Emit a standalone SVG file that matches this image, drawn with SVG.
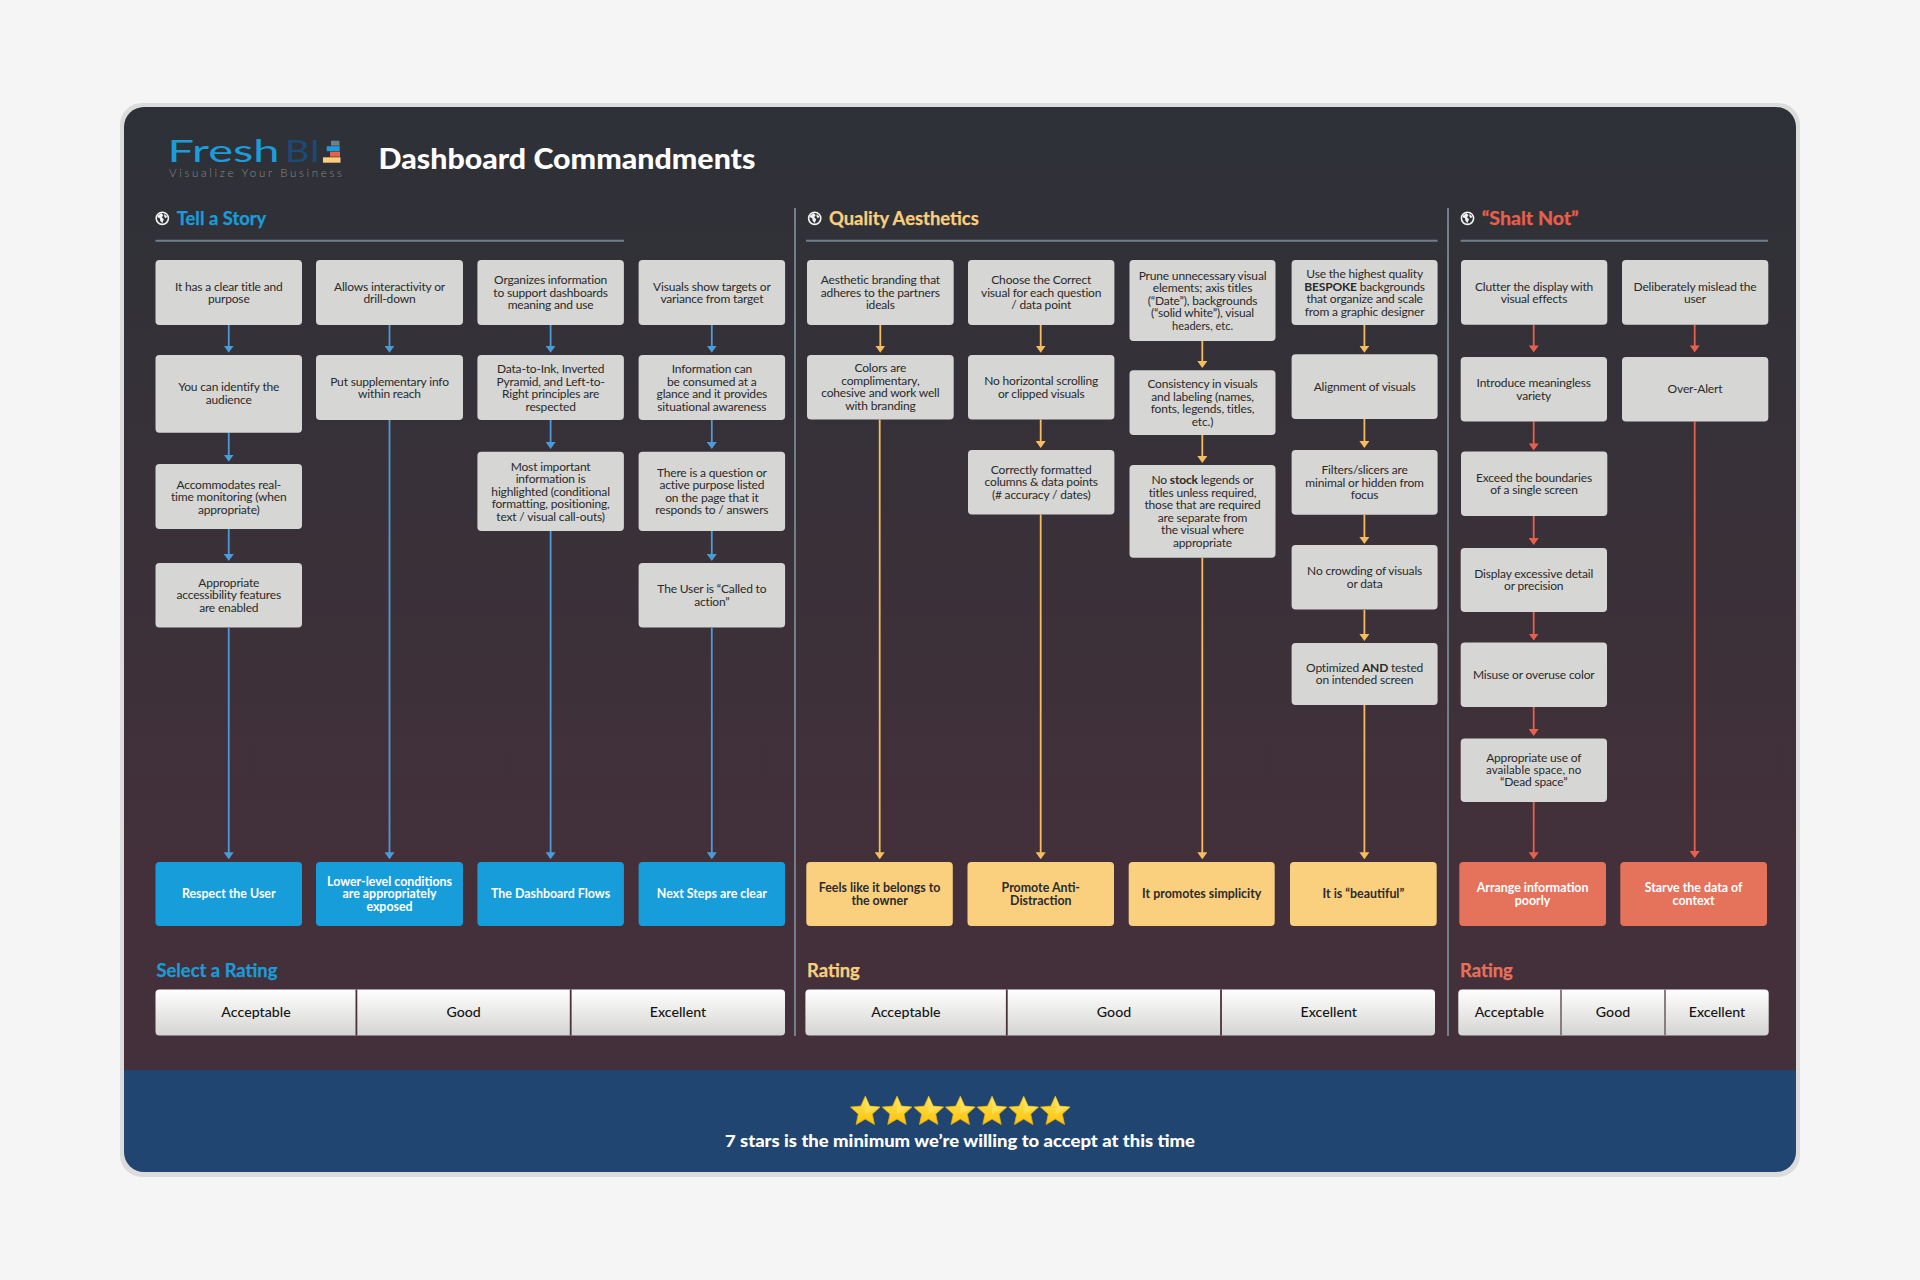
<svg xmlns="http://www.w3.org/2000/svg" xmlns:xlink="http://www.w3.org/1999/xlink" width="1920" height="1280" viewBox="0 0 1920 1280">
<style>
text{font-family:"Lato","Open Sans","Liberation Sans",sans-serif;text-anchor:middle}
.b{fill:#d6d6d4}
.t{font-size:12px;fill:#2a2a2a;letter-spacing:-0.17px}
.bb{fill:#189ddb}
.by{fill:#fad07f}
.br{fill:#e5725b}
.tw{font-size:12.4px;font-weight:700;fill:#fff}
.td{font-size:12.4px;font-weight:700;fill:#2b2b2b}
.h{font-size:18.4px;font-weight:700;text-anchor:start;stroke-width:0.25px}
.r{font-size:14.2px;font-weight:500;fill:#141414}
.cb{stroke:#4a9bd8;stroke-width:1.8;fill:none;marker-end:url(#mb)}
.cy{stroke:#f5bd60;stroke-width:1.8;fill:none;marker-end:url(#my)}
.cr{stroke:#e8604c;stroke-width:1.8;fill:none;marker-end:url(#mr)}
.rule{stroke:#6f7f8b;stroke-width:2}
.sep{stroke:#4a323d;stroke-width:1.8}
</style>
<defs>
<linearGradient id="card" x1="0" y1="107" x2="0" y2="900" gradientUnits="userSpaceOnUse"><stop offset="0" stop-color="#2d3137"/><stop offset="1" stop-color="#44303a"/></linearGradient>
<linearGradient id="bar" x1="0" y1="0" x2="0" y2="1"><stop offset="0" stop-color="#ffffff"/><stop offset="1" stop-color="#d4d4d2"/></linearGradient>
<linearGradient id="star" x1="0" y1="0" x2="0" y2="1"><stop offset="0" stop-color="#ffe455"/><stop offset="1" stop-color="#fcc20c"/></linearGradient>
<marker id="mb" viewBox="0 0 7 10" markerUnits="userSpaceOnUse" markerWidth="7" markerHeight="10" refX="2" refY="5" orient="auto"><path d="M0 0L7 5L0 10z" fill="#4a9bd8"/></marker>
<marker id="my" viewBox="0 0 7 10" markerUnits="userSpaceOnUse" markerWidth="7" markerHeight="10" refX="2" refY="5" orient="auto"><path d="M0 0L7 5L0 10z" fill="#f5bd60"/></marker>
<marker id="mr" viewBox="0 0 7 10" markerUnits="userSpaceOnUse" markerWidth="7" markerHeight="10" refX="2" refY="5" orient="auto"><path d="M0 0L7 5L0 10z" fill="#e8604c"/></marker>
<g id="globe"><circle r="6.1" fill="#2f3238" stroke="#f2f2f2" stroke-width="1.6"/><path d="M-4.8 -2.6L-1 -5.2L1 -3L-0.5 -1L1.5 1L0 4.8L-2 2.6L-2.5 0L-4.8 -1z M2 -4.2L5 -1.5L3 0L1.8 -2z" fill="#f2f2f2"/></g>
<g id="st"><path d="M0 -14.5L4.4 -4.6L14.8 -3.6L7 3.4L9.2 13.8L0 8.4L-9.2 13.8L-7 3.4L-14.8 -3.6L-4.4 -4.6z" fill="url(#star)" stroke="#e9b00c" stroke-width="0.8" stroke-linejoin="round"/><path d="M0 -14.5L4.4 -4.6L14.8 -3.6L0 3z" fill="#ffe86e" opacity="0.55"/></g>
</defs>
<rect width="1920" height="1280" fill="#f5f5f5"/>
<g id="panel">
<rect x="122" y="105" width="1676" height="1070" rx="20" fill="#dcdcdc" stroke="#dcdcdc" stroke-width="4"/>
<path d="M144 107H1776a20 20 0 0 1 20 20V1070H124V127a20 20 0 0 1 20-20z" fill="url(#card)"/>
<path d="M124 1070H1796V1152a20 20 0 0 1-20 20H144a20 20 0 0 1-20-20z" fill="#204570"/>
</g>
<g id="logo">
<text x="167.5" y="161.7" font-size="30" font-weight="400" textLength="112" lengthAdjust="spacingAndGlyphs" style="text-anchor:start" fill="#1b9ddb">Fresh</text>
<text x="285" y="161.7" font-size="30" font-weight="400" textLength="35" lengthAdjust="spacingAndGlyphs" style="text-anchor:start" fill="#1c4a75">BI</text>
<rect x="331" y="140.7" width="8.5" height="5" fill="#6e7e8c"/>
<rect x="326.7" y="146.2" width="13" height="5" fill="#1b9ddb"/>
<rect x="330" y="151.7" width="10" height="5" fill="#e8604c"/>
<rect x="323" y="157.3" width="17.5" height="5.4" fill="#f9cf7e"/>
<text x="169" y="176.5" font-size="11.5" font-weight="300" textLength="173" style="text-anchor:start" fill="#8a8a8a">Visualize Your Business</text>
</g>
<text id="title" x="378.5" y="169" font-size="29" font-weight="900" fill="#fff" textLength="377" lengthAdjust="spacingAndGlyphs" style="text-anchor:start">Dashboard Commandments</text>
<g id="section-heads">
<use href="#globe" x="162.3" y="218.3"/><text class="h" x="176.7" y="224.7" fill="#1a9cd8" stroke="#1a9cd8">Tell a Story</text>
<use href="#globe" x="814.7" y="218.3"/><text class="h" x="829" y="224.7" fill="#f9cf7e" stroke="#f9cf7e">Quality Aesthetics</text>
<use href="#globe" x="1467.5" y="218.3"/><text class="h" x="1481.7" y="224.7" fill="#e8604c" stroke="#e8604c" textLength="97" lengthAdjust="spacingAndGlyphs">“Shalt Not”</text>
<line class="rule" x1="155.5" y1="240.7" x2="624" y2="240.7"/>
<line class="rule" x1="806" y1="240.7" x2="1437.6" y2="240.7"/>
<line class="rule" x1="1460.7" y1="240.7" x2="1768" y2="240.7"/>
<line class="rule" x1="795" y1="208" x2="795" y2="1036"/>
<line class="rule" x1="1448" y1="208" x2="1448" y2="1036"/>
</g>
<g id="connectors">
<path class="cb" d="M228.75 325V347.7"/><path class="cb" d="M228.75 432.7V456.7"/><path class="cb" d="M228.75 529V556"/><path class="cb" d="M228.75 628V854.3"/>
<path class="cb" d="M389.5 325V347.7"/><path class="cb" d="M389.5 420V854.3"/>
<path class="cb" d="M550.6 325V347.7"/><path class="cb" d="M550.6 420V444"/><path class="cb" d="M550.6 531V854.3"/>
<path class="cb" d="M711.8 325V347.7"/><path class="cb" d="M711.8 420V444"/><path class="cb" d="M711.8 531V556"/><path class="cb" d="M711.8 628V854.3"/>
<path class="cy" d="M880.3 325V347.7"/><path class="cy" d="M879.7 419.5V854.3"/>
<path class="cy" d="M1040.7 325V347.7"/><path class="cy" d="M1040.7 419.5V443"/><path class="cy" d="M1040.7 514.5V854.3"/>
<path class="cy" d="M1202.3 341V363"/><path class="cy" d="M1202.3 435V458"/><path class="cy" d="M1202.3 557.7V854.3"/>
<path class="cy" d="M1364.4 325V347.7"/><path class="cy" d="M1364.4 419V443"/><path class="cy" d="M1364.4 514.7V539"/><path class="cy" d="M1364.4 610V636"/><path class="cy" d="M1364.4 705V854.3"/>
<path class="cr" d="M1533.7 325V347.4"/><path class="cr" d="M1533.7 421.4V445.4"/><path class="cr" d="M1533.7 516V540"/><path class="cr" d="M1533.7 612V635.6"/><path class="cr" d="M1533.7 707V731"/><path class="cr" d="M1533.7 802V854.3"/>
<path class="cr" d="M1694.7 325V347.4"/><path class="cr" d="M1694.7 421.4V853"/>
</g>
<g id="n1"><rect class="b" x="155.5" y="260" width="146.5" height="65" rx="4"/><text class="t" x="228.75" y="290.5">It has a clear title and<tspan x="228.75" dy="12.5">purpose</tspan></text></g>
<g id="n2"><rect class="b" x="155.5" y="355" width="146.5" height="77.7" rx="4"/><text class="t" x="228.75" y="391.2">You can identify the<tspan x="228.75" dy="12.5">audience</tspan></text></g>
<g id="n3"><rect class="b" x="155.5" y="464" width="146.5" height="65" rx="4"/><text class="t" x="228.75" y="488.6">Accommodates real-<tspan x="228.75" dy="12.5">time monitoring (when</tspan><tspan x="228.75" dy="12.5">appropriate)</tspan></text></g>
<g id="n4"><rect class="b" x="155.5" y="563" width="146.5" height="64.5" rx="4"/><text class="t" x="228.75" y="586.8">Appropriate<tspan x="228.75" dy="12.5">accessibility features</tspan><tspan x="228.75" dy="12.5">are enabled</tspan></text></g>
<g id="n5"><rect class="bb" x="155.5" y="862" width="146.5" height="64" rx="4"/><text class="tw" x="228.75" y="898">Respect the User</text></g>
<g id="n6"><rect class="b" x="316" y="260" width="147" height="65" rx="4"/><text class="t" x="389.5" y="290.5">Allows interactivity or<tspan x="389.5" dy="12.5">drill-down</tspan></text></g>
<g id="n7"><rect class="b" x="316" y="355" width="147" height="65" rx="4"/><text class="t" x="389.5" y="385.5">Put supplementary info<tspan x="389.5" dy="12.5">within reach</tspan></text></g>
<g id="n8"><rect class="bb" x="316" y="862" width="147" height="64" rx="4"/><text class="tw" x="389.5" y="885.5">Lower-level conditions<tspan x="389.5" dy="12.5">are appropriately</tspan><tspan x="389.5" dy="12.5">exposed</tspan></text></g>
<g id="n9"><rect class="b" x="477.4" y="260" width="146.5" height="65" rx="4"/><text class="t" x="550.6" y="284.2">Organizes information<tspan x="550.6" dy="12.5">to support dashboards</tspan><tspan x="550.6" dy="12.5">meaning and use</tspan></text></g>
<g id="n10"><rect class="b" x="477.4" y="355" width="146.5" height="65" rx="4"/><text class="t" x="550.6" y="373">Data-to-Ink, Inverted<tspan x="550.6" dy="12.5">Pyramid, and Left-to-</tspan><tspan x="550.6" dy="12.5">Right principles are</tspan><tspan x="550.6" dy="12.5">respected</tspan></text></g>
<g id="n11"><rect class="b" x="477.4" y="451.7" width="146.5" height="79.3" rx="4"/><text class="t" x="550.6" y="470.5">Most important<tspan x="550.6" dy="12.5">information is</tspan><tspan x="550.6" dy="12.5">highlighted (conditional</tspan><tspan x="550.6" dy="12.5">formatting, positioning,</tspan><tspan x="550.6" dy="12.5">text / visual call-outs)</tspan></text></g>
<g id="n12"><rect class="bb" x="477.4" y="862" width="146.5" height="64" rx="4"/><text class="tw" x="550.6" y="898">The Dashboard Flows</text></g>
<g id="n13"><rect class="b" x="638.6" y="260" width="146.5" height="65" rx="4"/><text class="t" x="711.85" y="290.5">Visuals show targets or<tspan x="711.85" dy="12.5">variance from target</tspan></text></g>
<g id="n14"><rect class="b" x="638.6" y="355" width="146.5" height="65" rx="4"/><text class="t" x="711.85" y="373">Information can<tspan x="711.85" dy="12.5">be consumed at a</tspan><tspan x="711.85" dy="12.5">glance and it provides</tspan><tspan x="711.85" dy="12.5">situational awareness</tspan></text></g>
<g id="n15"><rect class="b" x="638.6" y="451.7" width="146.5" height="79.3" rx="4"/><text class="t" x="711.85" y="476.8">There is a question or<tspan x="711.85" dy="12.5">active purpose listed</tspan><tspan x="711.85" dy="12.5">on the page that it</tspan><tspan x="711.85" dy="12.5">responds to / answers</tspan></text></g>
<g id="n16"><rect class="b" x="638.6" y="563" width="146.5" height="64.5" rx="4"/><text class="t" x="711.85" y="593">The User is “Called to<tspan x="711.85" dy="12.5">action”</tspan></text></g>
<g id="n17"><rect class="bb" x="638.6" y="862" width="146.5" height="64" rx="4"/><text class="tw" x="711.85" y="898">Next Steps are clear</text></g>
<g id="n18"><rect class="b" x="807" y="260" width="146.7" height="65" rx="4"/><text class="t" x="880.35" y="284.2">Aesthetic branding that<tspan x="880.35" dy="12.5">adheres to the partners</tspan><tspan x="880.35" dy="12.5">ideals</tspan></text></g>
<g id="n19"><rect class="b" x="807" y="355" width="146.7" height="64.5" rx="4"/><text class="t" x="880.35" y="372.4">Colors are<tspan x="880.35" dy="12.5">complimentary,</tspan><tspan x="880.35" dy="12.5">cohesive and work well</tspan><tspan x="880.35" dy="12.5">with branding</tspan></text></g>
<g id="n20"><rect class="by" x="806.3" y="862" width="146.5" height="64" rx="4"/><text class="td" x="879.6" y="892">Feels like it belongs to<tspan x="879.6" dy="12.5">the owner</tspan></text></g>
<g id="n21"><rect class="b" x="968" y="260" width="146.4" height="65" rx="4"/><text class="t" x="1041.2" y="284.2">Choose the Correct<tspan x="1041.2" dy="12.5">visual for each question</tspan><tspan x="1041.2" dy="12.5">/ data point</tspan></text></g>
<g id="n22"><rect class="b" x="968" y="355" width="146.4" height="64.5" rx="4"/><text class="t" x="1041.2" y="385.2">No horizontal scrolling<tspan x="1041.2" dy="12.5">or clipped visuals</tspan></text></g>
<g id="n23"><rect class="b" x="968" y="450" width="146.4" height="64.5" rx="4"/><text class="t" x="1041.2" y="473.5">Correctly formatted<tspan x="1041.2" dy="12.5">columns &amp; data points</tspan><tspan x="1041.2" dy="12.5">(# accuracy / dates)</tspan></text></g>
<g id="n24"><rect class="by" x="967.5" y="862" width="146.5" height="64" rx="4"/><text class="td" x="1040.8" y="892">Promote Anti-<tspan x="1040.8" dy="12.5">Distraction</tspan></text></g>
<g id="n25"><rect class="b" x="1129.5" y="260" width="146" height="81" rx="4"/><text class="t" x="1202.5" y="279.7">Prune unnecessary visual<tspan x="1202.5" dy="12.5">elements; axis titles</tspan><tspan x="1202.5" dy="12.5">(“Date”), backgrounds</tspan><tspan x="1202.5" dy="12.5">(“solid white”), visual</tspan><tspan x="1202.5" dy="12.5" font-size="11" letter-spacing="0">headers, etc.</tspan></text></g>
<g id="n26"><rect class="b" x="1129.5" y="370.3" width="146" height="64.7" rx="4"/><text class="t" x="1202.5" y="388">Consistency in visuals<tspan x="1202.5" dy="12.5">and labeling (names,</tspan><tspan x="1202.5" dy="12.5">fonts, legends, titles,</tspan><tspan x="1202.5" dy="12.5">etc.)</tspan></text></g>
<g id="n27"><rect class="b" x="1129.5" y="465" width="146" height="92.7" rx="4"/><text class="t" x="1202.5" y="484">No <tspan font-weight="700">stock</tspan> legends or<tspan x="1202.5" dy="12.5">titles unless required,</tspan><tspan x="1202.5" dy="12.5">those that are required</tspan><tspan x="1202.5" dy="12.5">are separate from</tspan><tspan x="1202.5" dy="12.5">the visual where</tspan><tspan x="1202.5" dy="12.5">appropriate</tspan></text></g>
<g id="n28"><rect class="by" x="1128.7" y="862" width="146" height="64" rx="4"/><text class="td" x="1201.7" y="898">It promotes simplicity</text></g>
<g id="n29"><rect class="b" x="1291.6" y="260" width="146" height="65" rx="4"/><text class="t" x="1364.6" y="278">Use the highest quality<tspan x="1364.6" dy="12.5"><tspan font-weight="700">BESPOKE</tspan> backgrounds</tspan><tspan x="1364.6" dy="12.5">that organize and scale</tspan><tspan x="1364.6" dy="12.5">from a graphic designer</tspan></text></g>
<g id="n30"><rect class="b" x="1291.6" y="354.3" width="146" height="64.7" rx="4"/><text class="t" x="1364.6" y="390.8">Alignment of visuals</text></g>
<g id="n31"><rect class="b" x="1291.6" y="450" width="146" height="64.7" rx="4"/><text class="t" x="1364.6" y="474">Filters/slicers are<tspan x="1364.6" dy="12.5">minimal or hidden from</tspan><tspan x="1364.6" dy="12.5">focus</tspan></text></g>
<g id="n32"><rect class="b" x="1291.6" y="545" width="146" height="64.5" rx="4"/><text class="t" x="1364.6" y="575">No crowding of visuals<tspan x="1364.6" dy="12.5">or data</tspan></text></g>
<g id="n33"><rect class="b" x="1291.6" y="643" width="146" height="62" rx="4"/><text class="t" x="1364.6" y="671.5">Optimized <tspan font-weight="700">AND</tspan> tested<tspan x="1364.6" dy="12.5">on intended screen</tspan></text></g>
<g id="n34"><rect class="by" x="1290" y="862" width="146.7" height="64" rx="4"/><text class="td" x="1363.4" y="898">It is “beautiful”</text></g>
<g id="n35"><rect class="b" x="1461" y="260" width="146.3" height="64.7" rx="4"/><text class="t" x="1534" y="290.5">Clutter the display with<tspan x="1534" dy="12.5">visual effects</tspan></text></g>
<g id="n36"><rect class="b" x="1460.7" y="357" width="146.3" height="64.4" rx="4"/><text class="t" x="1533.7" y="387.2">Introduce meaningless<tspan x="1533.7" dy="12.5">variety</tspan></text></g>
<g id="n37"><rect class="b" x="1461" y="451.6" width="146.3" height="64.4" rx="4"/><text class="t" x="1534" y="481.8">Exceed the boundaries<tspan x="1534" dy="12.5">of a single screen</tspan></text></g>
<g id="n38"><rect class="b" x="1460.7" y="548" width="146.3" height="64" rx="4"/><text class="t" x="1533.7" y="577.6">Display excessive detail<tspan x="1533.7" dy="12.5">or precision</tspan></text></g>
<g id="n39"><rect class="b" x="1460.7" y="642.6" width="146.3" height="64.4" rx="4"/><text class="t" x="1533.7" y="679">Misuse or overuse color</text></g>
<g id="n40"><rect class="b" x="1460.7" y="738.6" width="146.3" height="63.4" rx="4"/><text class="t" x="1533.7" y="762">Appropriate use of<tspan x="1533.7" dy="12" font-size="11.5" letter-spacing="0.1">available space, no</tspan><tspan x="1533.7" dy="12">“Dead space”</tspan></text></g>
<g id="n41"><rect class="br" x="1459.3" y="862" width="146.7" height="64" rx="4"/><text class="tw" x="1532.6" y="892">Arrange information<tspan x="1532.6" dy="12.5">poorly</tspan></text></g>
<g id="n42"><rect class="b" x="1622" y="260" width="146.3" height="64.7" rx="4"/><text class="t" x="1695" y="290.5">Deliberately mislead the<tspan x="1695" dy="12.5">user</tspan></text></g>
<g id="n43"><rect class="b" x="1622" y="357" width="146.3" height="64.4" rx="4"/><text class="t" x="1695" y="393.4">Over-Alert</text></g>
<g id="n44"><rect class="br" x="1620.3" y="862" width="146.7" height="64" rx="4"/><text class="tw" x="1693.6" y="892">Starve the data of<tspan x="1693.6" dy="12.5">context</tspan></text></g>
<g id="rating-1">
<text class="h" x="156.4" y="977" fill="#1a9cd8" stroke="#1a9cd8">Select a Rating</text>
<rect x="155.5" y="989.5" width="629.5" height="46" rx="4" fill="url(#bar)"/>
<line class="sep" x1="356.4" y1="989.5" x2="356.4" y2="1035.5"/><line class="sep" x1="570.7" y1="989.5" x2="570.7" y2="1035.5"/>
<text class="r" x="256" y="1017">Acceptable</text><text class="r" x="463.6" y="1017">Good</text><text class="r" x="678" y="1017">Excellent</text>
</g>
<g id="rating-2">
<text class="h" x="807" y="977" fill="#f9cf7e" stroke="#f9cf7e">Rating</text>
<rect x="805.4" y="989.5" width="629.6" height="46" rx="4" fill="url(#bar)"/>
<line class="sep" x1="1006.8" y1="989.5" x2="1006.8" y2="1035.5"/><line class="sep" x1="1221" y1="989.5" x2="1221" y2="1035.5"/>
<text class="r" x="905.9" y="1017">Acceptable</text><text class="r" x="1114" y="1017">Good</text><text class="r" x="1328.7" y="1017">Excellent</text>
</g>
<g id="rating-3">
<text class="h" x="1460" y="977" fill="#e5725b" stroke="#e5725b">Rating</text>
<rect x="1458.3" y="989.5" width="310.4" height="46" rx="4" fill="url(#bar)"/>
<line class="sep" x1="1561" y1="989.5" x2="1561" y2="1035.5" style="stroke:#8a7c82;stroke-width:2"/><line class="sep" x1="1665" y1="989.5" x2="1665" y2="1035.5" style="stroke:#8a7c82;stroke-width:2"/>
<text class="r" x="1509.3" y="1017">Acceptable</text><text class="r" x="1613" y="1017">Good</text><text class="r" x="1717" y="1017">Excellent</text>
</g>
<g id="stars">
<use href="#st" x="865.3" y="1110.7"/><use href="#st" x="897" y="1110.7"/><use href="#st" x="928.7" y="1110.7"/><use href="#st" x="960.3" y="1110.7"/><use href="#st" x="992" y="1110.7"/><use href="#st" x="1023.7" y="1110.7"/><use href="#st" x="1055.3" y="1110.7"/>
</g>
<text id="footer" x="960" y="1147" font-size="17.8" font-weight="900" fill="#fff" textLength="470" lengthAdjust="spacingAndGlyphs">7 stars is the minimum we’re willing to accept at this time</text>
</svg>
